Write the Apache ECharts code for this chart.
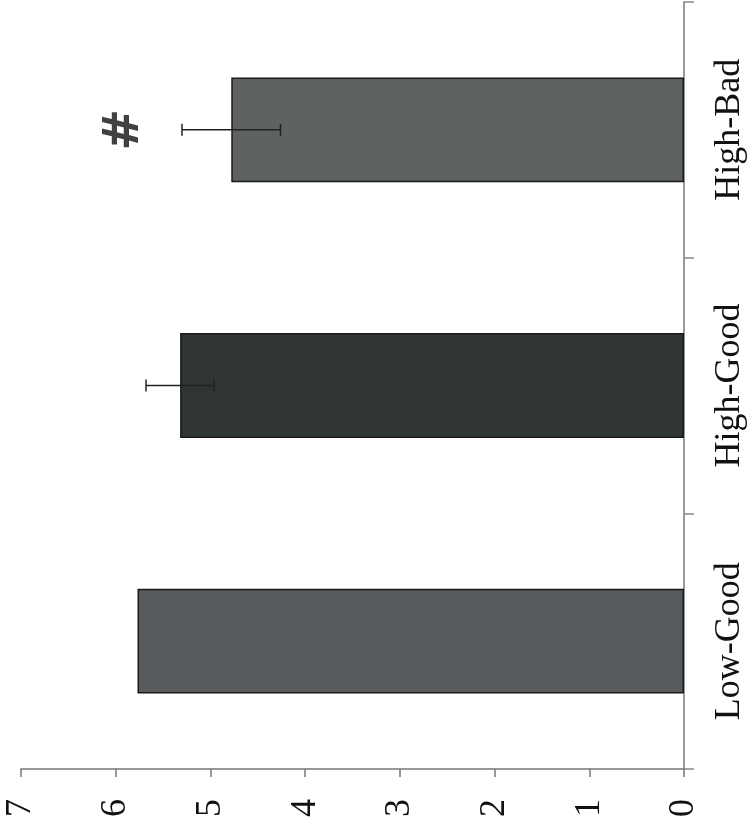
<!DOCTYPE html>
<html>
<head>
<meta charset="utf-8">
<script src="https://cdn.jsdelivr.net/npm/echarts@6/dist/echarts.min.js"></script>
<style>html,body{margin:0;padding:0;background:#fff;}#c{width:749px;height:836px;}</style>
</head>
<body>
<div id="c"></div>
<script>
const categories = ['Low-Good', 'High-Good', 'High-Bad'];
const means = [5.77, 5.32, 4.78];
const errors = [null, 0.36, 0.52];
const barColors = ['#575b5d', '#2f3434', '#5e6262'];
const valueTicks = [0, 1, 2, 3, 4, 5, 6, 7];
const markText = ['', '', '#'];
const markValue = [null, null, 5.9];

const FONT = '"Liberation Serif", "DejaVu Serif", serif';
const chart = echarts.init(document.getElementById('c'), null, {renderer: 'canvas'});

const errData = categories.map((c, i) => errors[i] == null ? null : [i, means[i] - errors[i], means[i] + errors[i]]).filter(d => d);

chart.setOption({
  animation: false,
  backgroundColor: '#ffffff',
  grid: {left: 21, right: 65, top: 2, bottom: 67, containLabel: false},
  xAxis: {
    type: 'value', inverse: true, position: 'bottom',
    min: valueTicks[0], max: valueTicks[valueTicks.length - 1], interval: 1,
    axisLine: {show: true, onZero: false, lineStyle: {color: '#777', width: 1.5}},
    axisTick: {show: true, length: 8, lineStyle: {color: '#777', width: 1.5}},
    splitLine: {show: false},
    axisLabel: {rotate: 90, margin: 30, color: '#111', fontFamily: FONT, fontSize: 36}
  },
  yAxis: {
    type: 'category', position: 'right', data: categories,
    axisLine: {show: true, lineStyle: {color: '#777', width: 1.5}},
    axisTick: {show: true, length: 10, lineStyle: {color: '#888', width: 1.5}},
    axisLabel: {rotate: 90, margin: 28, color: '#111', fontFamily: FONT, fontSize: 36}
  },
  series: [
    {
      type: 'bar', barWidth: '41%',
      data: means.map((v, i) => ({value: v, itemStyle: {color: barColors[i]}})),
      itemStyle: {borderColor: '#1a1a1a', borderWidth: 1.5}
    },
    {
      type: 'custom',
      data: errData,
      z: 10,
      renderItem: function (params, api) {
        const cat = api.value(0);
        const lo = api.coord([api.value(1), cat]);
        const hi = api.coord([api.value(2), cat]);
        const cap = 6;
        const st = {stroke: '#222', lineWidth: 1.5};
        return {type: 'group', children: [
          {type: 'line', shape: {x1: lo[0], y1: lo[1], x2: hi[0], y2: hi[1]}, style: st},
          {type: 'line', shape: {x1: lo[0], y1: lo[1] - cap, x2: lo[0], y2: lo[1] + cap}, style: st},
          {type: 'line', shape: {x1: hi[0], y1: hi[1] - cap, x2: hi[0], y2: hi[1] + cap}, style: st}
        ]};
      }
    },
    {
      type: 'scatter', symbolSize: 0,
      data: markValue.map((v, i) => v == null ? null : [v, i]).filter(d => d),
      label: {
        show: true, position: 'inside', rotate: 90,
        formatter: (p) => markText[p.data[1]],
        fontFamily: '"DejaVu Sans", sans-serif', fontWeight: 'bold', fontSize: 50, color: '#111'
      }
    }
  ]
});
</script>
</body>
</html>
